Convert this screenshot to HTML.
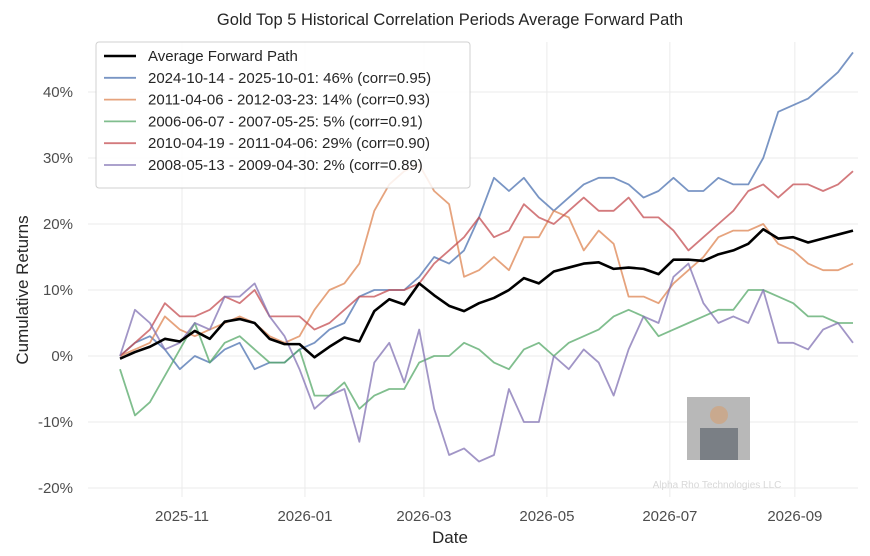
<!DOCTYPE html>
<html><head><meta charset="utf-8"><style>
body{margin:0;background:#fff;}
svg{display:block;font-family:"Liberation Sans",sans-serif;}
</style></head><body>
<svg id="chart" width="870" height="556">
<text x="450" y="25" text-anchor="middle" font-size="16.5" fill="#262626">Gold Top 5 Historical Correlation Periods Average Forward Path</text>
<g id="grid"></g>
<g id="lines"></g>
<rect x="687" y="397" width="63" height="63" fill="#b8b8b8"/>
<rect x="700" y="428" width="38" height="32" fill="#6a7078" opacity="0.8"/>
<circle cx="719" cy="415" r="9" fill="#c9a98e"/>
<text x="717" y="488" text-anchor="middle" font-size="10" fill="#d8d8d8">Alpha Rho Technologies LLC</text>
<text x="450" y="543" text-anchor="middle" font-size="17" fill="#262626">Date</text>
<text transform="translate(28,290) rotate(-90)" text-anchor="middle" font-size="17" fill="#262626">Cumulative Returns</text>
<g id="legend">
<rect x="96" y="42" width="374" height="146" rx="3" fill="#fff" fill-opacity="0.85" stroke="#d0d0d0"/>
</g>
</svg>
<script>
const yTicks=[40,30,20,10,0,-10,-20];
const xTickLabels=["2025-11","2026-01","2026-03","2026-05","2026-07","2026-09"];
const xTickDays=[31,92,151,212,273,335];
const seriesNames=["2024-10-14 - 2025-10-01: 46% (corr=0.95)","2011-04-06 - 2012-03-23: 14% (corr=0.93)","2006-06-07 - 2007-05-25: 5% (corr=0.91)","2010-04-19 - 2011-04-06: 29% (corr=0.90)","2008-05-13 - 2009-04-30: 2% (corr=0.89)"];
const blue=[0,2,3,1,-2,0,-1,1,2,-2,-1,-1,1,2,4,5,9,10,10,10,12,15,14,16,21,27,25,27,24,22,24,26,27,27,26,24,25,27,25,25,27,26,26,30,37,38,39,41,43,46];
const orange=[0,1,2,6,4,3,4,5,6,5,3,2,3,7,10,11,14,22,26,28,29,25,23,12,13,15,13,18,18,22,21,16,19,17,9,9,8,11,13,15,18,19,19,20,17,16,14,13,13,14];
const green=[-2,-9,-7,-3,1,5,-1,2,3,1,-1,-1,1,-6,-6,-4,-8,-6,-5,-5,-1,0,0,2,1,-1,-2,1,2,0,2,3,4,6,7,6,3,4,5,6,7,7,10,10,9,8,6,6,5,5];
const red=[0,2,4,8,6,6,7,9,8,10,6,6,6,4,5,7,9,9,10,10,11,14,16,18,21,18,19,23,21,20,22,24,22,22,24,21,21,19,16,18,20,22,25,26,24,26,26,25,26,28];
const purple=[0,7,5,1,2,5,4,9,9,11,6,3,-2,-8,-6,-5,-13,-1,2,-4,4,-8,-15,-14,-16,-15,-5,-10,-10,0,-2,1,-1,-6,1,6,5,12,14,8,5,6,5,10,2,2,1,4,5,2];
const series=[blue,orange,green,red,purple];
const colors=["#4c72b0","#dd8452","#55a868","#c44e52","#8172b3"];
const names=["series-2024","series-2011","series-2006","series-2010","series-2008"];
const avg=blue.map((_,i)=>series.reduce((s,a)=>s+a[i],0)/series.length);

const NS="http://www.w3.org/2000/svg";
const X0=88,X1=858,Y0=42,Y1=497;
const dayX=d=>182+(d-31)*2.016;
const idxX=i=>120+i*(853-120)/(blue.length-1);
const yS=v=>356-v*6.6;
const grid=document.getElementById('grid');
const mk=(t,a,p)=>{const e=document.createElementNS(NS,t);for(const k in a)e.setAttribute(k,a[k]);p.appendChild(e);return e;};
yTicks.forEach(v=>{
  const l=mk('line',{x1:X0,x2:X1,y1:yS(v),y2:yS(v),stroke:'#ebebeb'},grid);
  
  
  const t=mk('text',{x:73,y:yS(v)+5,'text-anchor':'end','font-size':15,fill:'#4d4d4d'},grid);
  t.textContent=v+'%';
  
  
});
xTickDays.forEach((d,i)=>{
  const x=dayX(d);
  const l=mk('line',{x1:x,x2:x,y1:Y0,y2:Y1,stroke:'#ebebeb'},grid);
  
  
  const t=mk('text',{x:x,y:521,'text-anchor':'middle','font-size':15,fill:'#4d4d4d'},grid);
  t.textContent=xTickLabels[i];
  
  
});
const lines=document.getElementById('lines');
series.forEach((s,k)=>{
  const p=mk('polyline',{points:s.map((v,i)=>idxX(i)+','+yS(v)).join(' '),fill:'none',stroke:colors[k],'stroke-width':1.8,'stroke-opacity':0.75,'stroke-linejoin':'round'},lines);
  
  
});
const ap=mk('polyline',{points:avg.map((v,i)=>idxX(i)+','+yS(v)).join(' '),fill:'none',stroke:'#000','stroke-width':2.6,'stroke-linejoin':'round'},lines);


const lg=document.getElementById('legend');
const labels=["Average Forward Path"].concat(seriesNames);
const lcol=["#000"].concat(colors);
labels.forEach((s,i)=>{
  const y=56+i*21.8;
  const l=mk('line',{x1:104,x2:136,y1:y,y2:y,stroke:lcol[i],'stroke-width':i?1.8:2.6,'stroke-opacity':i?0.75:1},lg);
  
  
  const t=mk('text',{x:148,y:y+5,'font-size':15,fill:'#262626'},lg);
  t.textContent=s;
  
  
});
</script>
</body></html>
